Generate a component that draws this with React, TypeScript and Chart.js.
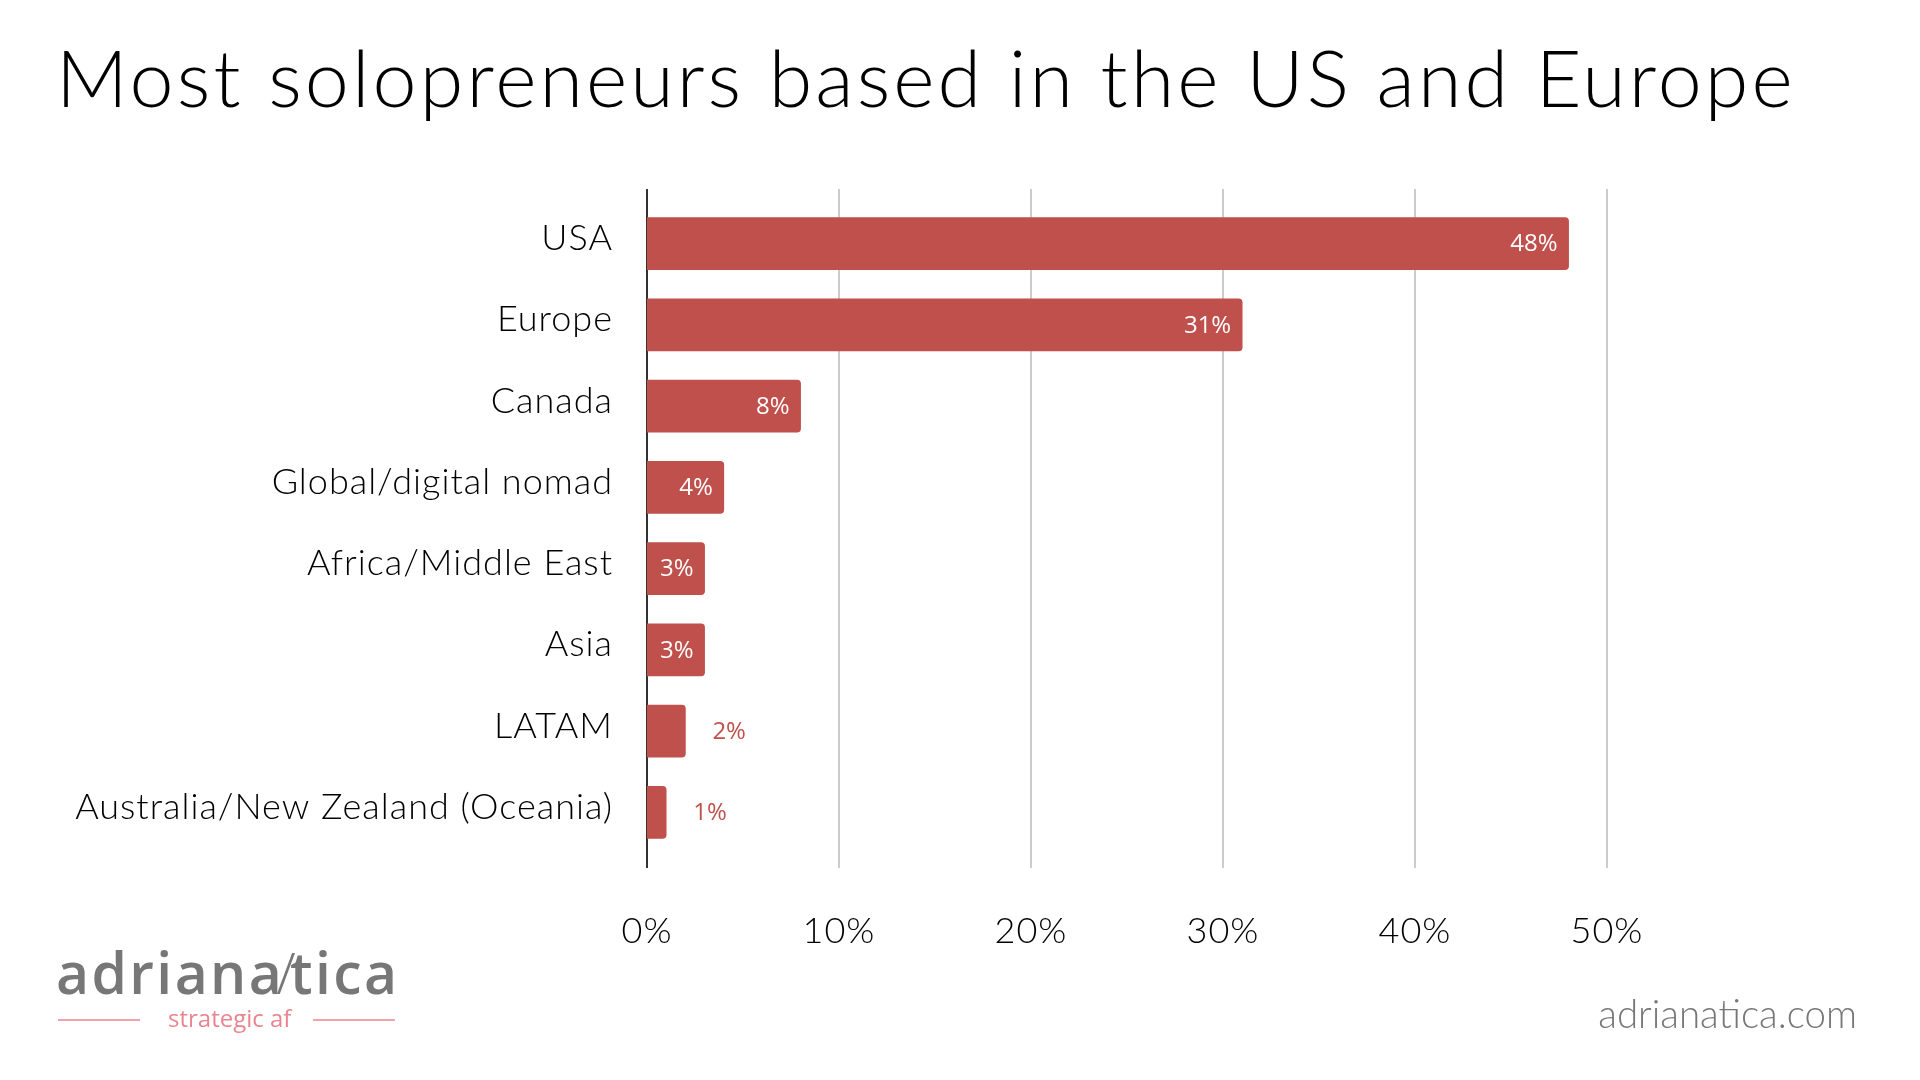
import React, { useEffect, useRef } from "react";
import { Chart, registerables } from "chart.js";

Chart.register(...registerables);

// ---- data ----
const categories = [
  "USA",
  "Europe",
  "Canada",
  "Global/digital nomad",
  "Africa/Middle East",
  "Asia",
  "LATAM",
  "Australia/New Zealand (Oceania)",
];
const shares = [48, 31, 8, 4, 3, 3, 2, 1];
const xTickValues = [0, 10, 20, 30, 40, 50];
const titleText = "Most solopreneurs based in the US and Europe";
const siteText = "adrianatica.com";

const BAR_COLOR = "#BF504B";
const LABEL_FONT = "Lato, 'Open Sans', sans-serif";

const spacingPlugin = {
  id: "textSpacing",
  beforeDraw(chart: any) {
    chart.ctx.letterSpacing = "1px";
  },
  afterDraw(chart: any) {
    chart.ctx.letterSpacing = "0px";
  },
};

const gridPlugin = {
  id: "customGrid",
  beforeDatasetsDraw(chart: any) {
    const { ctx, chartArea, scales } = chart;
    const x = scales.x;
    ctx.save();
    xTickValues.forEach((v) => {
      const px = Math.round(x.getPixelForValue(v));
      ctx.beginPath();
      ctx.lineWidth = 2;
      ctx.strokeStyle = v === 0 ? "#333333" : "#cccccc";
      ctx.moveTo(px, chartArea.top - 14);
      ctx.lineTo(px, chartArea.bottom + 15);
      ctx.stroke();
    });
    ctx.restore();
  },
};

const valueLabelPlugin = {
  id: "valueLabels",
  afterDatasetsDraw(chart: any) {
    const { ctx } = chart;
    const meta = chart.getDatasetMeta(0);
    ctx.save();
    ctx.letterSpacing = "0px";
    ctx.font = "400 24px 'Open Sans', 'Noto Sans', sans-serif";
    ctx.textBaseline = "middle";
    meta.data.forEach((bar: any, i: number) => {
      const v = shares[i];
      const text = v + "%";
      if (v >= 3) {
        ctx.fillStyle = "#ffffff";
        ctx.textAlign = "right";
        ctx.fillText(text, bar.x - 11, bar.y + 1);
      } else {
        ctx.fillStyle = BAR_COLOR;
        ctx.textAlign = "left";
        ctx.fillText(text, bar.x + 27, bar.y + 1);
      }
    });
    ctx.restore();
  },
};

function BarChart() {
  const ref = useRef<HTMLCanvasElement | null>(null);
  useEffect(() => {
    if (!ref.current) return;
    const chart = new Chart(ref.current, {
      type: "bar",
      data: {
        labels: categories,
        datasets: [
          {
            data: shares,
            backgroundColor: BAR_COLOR,
            borderRadius: 4,
            borderSkipped: "start",
            barThickness: 52,
          },
        ],
      },
      options: {
        indexAxis: "y",
        responsive: false,
        animation: false,
        devicePixelRatio: 1,
        layout: { padding: { left: 0, right: 313, top: 203, bottom: 0 } },
        plugins: {
          legend: { display: false },
          tooltip: { enabled: false },
          title: { display: false },
        },
        scales: {
          y: {
            type: "category",
            grid: { display: false, drawTicks: false },
            border: { display: false },
            afterFit: (s: any) => {
              s.width = 647;
            },
            ticks: {
              padding: 34,
              color: "#000000",
              labelOffset: -5,
              font: { family: LABEL_FONT, size: 36, weight: "300" },
            },
          },
          x: {
            type: "linear",
            min: 0,
            max: 50,
            grid: { display: false, drawTicks: false },
            border: { display: false },
            afterFit: (s: any) => {
              s.height = 227;
            },
            afterBuildTicks: (s: any) => {
              s.ticks = xTickValues.map((v) => ({ value: v }));
            },
            ticks: {
              padding: 57,
              color: "#000000",
              font: { family: LABEL_FONT, size: 36, weight: "300" },
              callback: (v: any) => v + "%",
            },
          },
        },
      },
      plugins: [spacingPlugin, gridPlugin, valueLabelPlugin],
    } as any);
    return () => chart.destroy();
  }, []);
  return (
    <canvas
      ref={ref}
      width={1920}
      height={1080}
      style={{ position: "absolute", left: 0, top: 0, width: 1920, height: 1080 }}
    />
  );
}

export default function App() {
  return (
    <div
      style={{
        position: "absolute",
        left: 0,
        top: 0,
        width: 1920,
        height: 1080,
        background: "#ffffff",
        overflow: "hidden",
      }}
    >
      <BarChart />
      <div
        style={{
          position: "absolute",
          left: 56,
          top: 37,
          fontFamily: LABEL_FONT,
          fontWeight: 300,
          fontSize: 79,
          lineHeight: "79px",
          letterSpacing: "3.1px",
          color: "#000000",
          whiteSpace: "nowrap",
        }}
      >
        {titleText}
      </div>
      {/* logo bottom-left */}
      <div
        style={{
          position: "absolute",
          left: 56,
          top: 940,
          width: 342,
          fontFamily: "'Open Sans', 'Noto Sans', sans-serif",
          color: "#777777",
        }}
      >
        <div
          style={{
            fontSize: 57,
            fontWeight: 600,
            lineHeight: "64px",
            letterSpacing: "2.4px",
            whiteSpace: "nowrap",
          }}
        >
          adriana<span style={{ fontWeight: 300, margin: "0 -8px" }}>/</span>tica
        </div>
        <div
          style={{
            position: "relative",
            height: 30,
            marginTop: 0,
            color: "#ea8590",
            fontSize: 24,
            fontWeight: 400,
          }}
        >
          <div style={{ position: "absolute", left: 2, top: 15, width: 82, height: 2, background: "#f0a3aa" }} />
          <div style={{ position: "absolute", left: 112, top: 0, lineHeight: "28px", whiteSpace: "nowrap" }}>
            strategic af
          </div>
          <div style={{ position: "absolute", left: 257, top: 15, width: 82, height: 2, background: "#f0a3aa" }} />
        </div>
      </div>
      <div
        style={{
          position: "absolute",
          right: 63,
          top: 989,
          fontFamily: LABEL_FONT,
          fontWeight: 300,
          fontSize: 38.5,
          lineHeight: "48px",
          color: "#777777",
          whiteSpace: "nowrap",
        }}
      >
        {siteText}
      </div>
    </div>
  );
}
